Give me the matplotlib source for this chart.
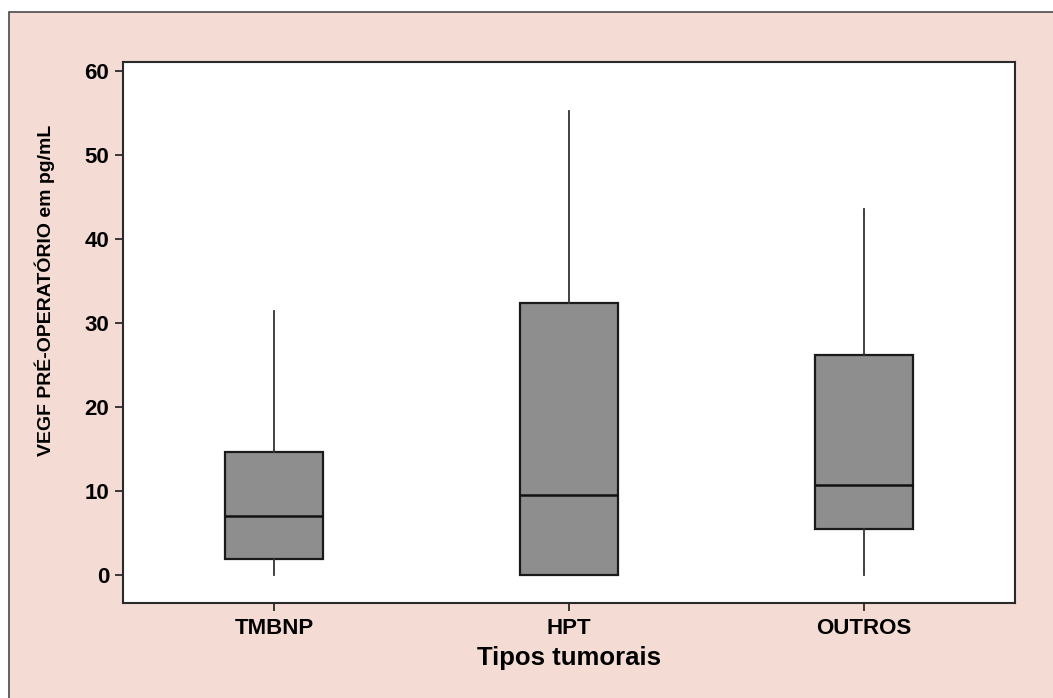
import matplotlib
matplotlib.use("Agg")
import matplotlib.pyplot as plt
from matplotlib.patches import Rectangle

categories = ["TMBNP", "HPT", "OUTROS"]
whislo = [0.0, 0.0, 0.0]
q1 = [1.9, 0.0, 5.5]
med = [7.0, 9.5, 10.7]
q3 = [14.6, 32.4, 26.2]
whishi = [31.4, 55.2, 43.6]
yticks = [0, 10, 20, 30, 40, 50, 60]

plt.rcParams['font.family'] = ['Liberation Sans', 'DejaVu Sans']
plt.rcParams['font.weight'] = 'bold'

fig = plt.figure(figsize=(10.53, 6.98), dpi=100, facecolor='white')
bg = Rectangle((9/1053, -0.1), 1.2, 1.1 - 12/698, transform=fig.transFigure,
               facecolor='#f4dcd5', edgecolor='#4a4a4a', linewidth=1.2, zorder=-10)
fig.patches.append(bg)

ax = fig.add_axes([123/1053, 1 - 603/698, (1015-123)/1053, (603-62)/698])
ax.set_zorder(1)
ax.set_facecolor('white')

stats = []
for c, lo, a, m, b, hi in zip(categories, whislo, q1, med, q3, whishi):
    stats.append(dict(label=c, whislo=lo, q1=a, med=m, q3=b, whishi=hi, fliers=[]))

ax.bxp(stats, positions=[1, 2, 3], widths=0.335, patch_artist=True,
       showfliers=False, showcaps=False,
       boxprops=dict(facecolor='#8e8e8e', edgecolor='#1a1a1a', linewidth=1.6),
       medianprops=dict(color='#111111', linewidth=1.8),
       whiskerprops=dict(color='#333333', linewidth=1.3))

ax.set_xlim(0.488, 3.512)
ax.set_ylim(-3.33, 61.07)
ax.set_yticks(yticks)
ax.set_xticks([1, 2, 3])
ax.set_xticklabels(categories)

for s in ax.spines.values():
    s.set_linewidth(1.5)
    s.set_color('#2a2a2a')

ax.tick_params(axis='both', direction='out', length=6, width=1.3, color='#2a2a2a',
               labelsize=16, pad=4)
ax.tick_params(axis='x', pad=5)
for lab in ax.get_xticklabels() + ax.get_yticklabels():
    lab.set_fontweight('bold')

ax.set_xlabel("Tipos tumorais", fontsize=18.5, fontweight='bold')
ax.xaxis.set_label_coords(0.5, (603 - 646) / 541)
ax.set_ylabel("VEGF PRÉ-OPERATÓRIO em pg/mL", fontsize=14, fontweight='bold', va='center')
ax.yaxis.set_label_coords((45 - 123) / 892, (603 - 290) / 541)

fig.savefig("out.png", dpi=100, facecolor=fig.get_facecolor())
